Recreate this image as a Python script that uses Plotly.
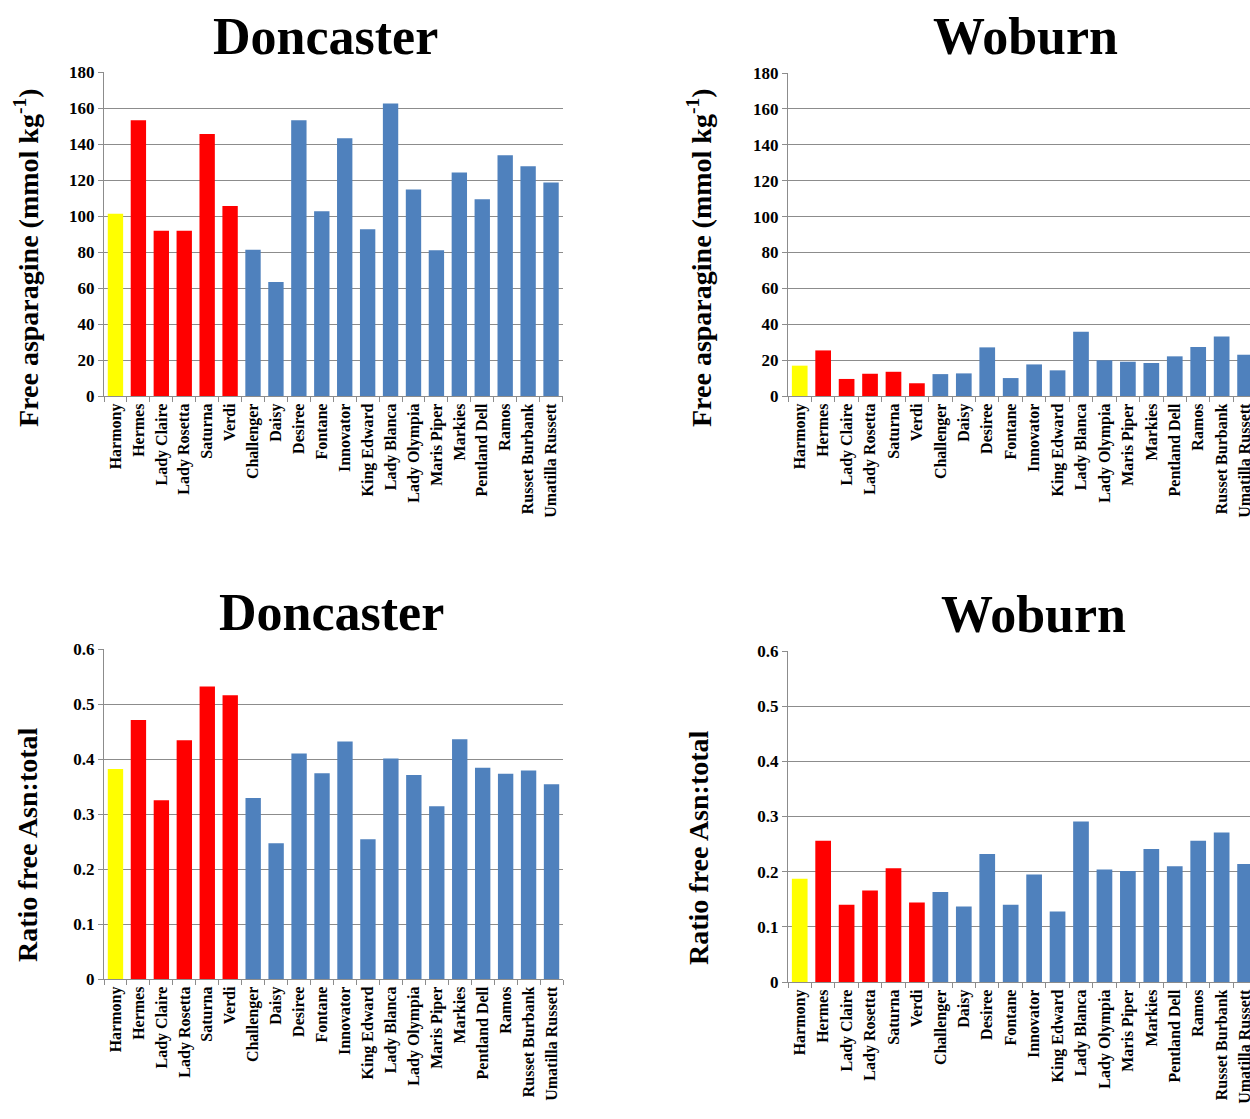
import plotly.graph_objects as go

W, H = 1250, 1119

varieties = ["Harmony", "Hermes", "Lady Claire", "Lady Rosetta", "Saturna", "Verdi",
             "Challenger", "Daisy", "Desiree", "Fontane", "Innovator", "King Edward",
             "Lady Blanca", "Lady Olympia", "Maris Piper", "Markies", "Pentland Dell",
             "Ramos", "Russet Burbank", "Umatilla Russett"]
groups = ["yellow"] + ["red"] * 5 + ["blue"] * 14

doncaster_asn = [101.3, 153.2, 91.8, 91.8, 145.6, 105.5, 81.3, 63.3, 153.2, 102.6,
                 143.2, 92.7, 162.5, 114.7, 81.0, 124.2, 109.3, 133.8, 127.7, 118.6]
woburn_asn = [16.9, 25.4, 9.5, 12.4, 13.5, 7.1, 12.2, 12.6, 27.1, 10.0,
              17.6, 14.3, 35.8, 19.9, 19.1, 18.4, 22.1, 27.3, 33.2, 23.0]
doncaster_ratio = [0.382, 0.471, 0.325, 0.434, 0.532, 0.516, 0.329, 0.247, 0.410, 0.374,
                   0.432, 0.254, 0.401, 0.371, 0.314, 0.436, 0.384, 0.373, 0.379, 0.354]
woburn_ratio = [0.187, 0.256, 0.140, 0.166, 0.206, 0.144, 0.163, 0.137, 0.232, 0.140,
                0.195, 0.128, 0.291, 0.204, 0.201, 0.241, 0.210, 0.256, 0.271, 0.214]

color_map = {"yellow": "#FFFF00", "red": "#FF0000", "blue": "#4F81BD"}
colors = [color_map[g] for g in groups]

FONT = "Liberation Serif, Times New Roman, serif"
GRID = "#8c8c8c"

def px(x):
    return x / W

def py(y):
    return 1 - y / H

panels = [
    # (values, x-domain px, y-domain px (top,bottom), x-range, y-range, dtick)
    (doncaster_asn, (104, 562.5), (72, 396), [-0.5, 19.5], [0, 180], 20),
    (woburn_asn, (788, 1250), (73, 396), [-0.5, 19.21], [0, 180], 20),
    (doncaster_ratio, (104, 563), (649, 979), [-0.5, 19.5], [0, 0.6], 0.1),
    (woburn_ratio, (788, 1250), (651, 982), [-0.5, 19.21], [0, 0.6], 0.1),
]

fig = go.Figure()
layout = dict(width=W, height=H, margin=dict(l=0, r=0, t=0, b=0, autoexpand=False),
              paper_bgcolor="white", plot_bgcolor="white", showlegend=False,
              bargap=0.33)

for i, (vals, xd, yd, xr, yr, dt) in enumerate(panels, start=1):
    xa = "x" if i == 1 else f"x{i}"
    ya = "y" if i == 1 else f"y{i}"
    fig.add_trace(go.Bar(x=varieties, y=vals, marker=dict(color=colors, line=dict(width=0)),
                         xaxis=xa, yaxis=ya))
    xkey = "xaxis" if i == 1 else f"xaxis{i}"
    ykey = "yaxis" if i == 1 else f"yaxis{i}"
    layout[xkey] = dict(domain=[px(xd[0]), px(xd[1])], anchor=ya, range=xr,
                        type="category", showline=True, linecolor=GRID, linewidth=1.3,
                        ticks="outside", tickson="boundaries", ticklen=5, tickcolor=GRID,
                        tickangle=-90, showgrid=False, automargin=False,
                        ticklabeloverflow="allow",
                        tickfont=dict(family=FONT, size=16, color="black", weight="bold"))
    layout[ykey] = dict(domain=[py(yd[1]), py(yd[0])], anchor=xa, range=yr, dtick=dt,
                        showline=True, linecolor=GRID, linewidth=1.3,
                        ticks="outside", ticklen=5, tickcolor=GRID, automargin=False,
                        showgrid=True, gridcolor=GRID, gridwidth=1.3, zeroline=False,
                        tickfont=dict(family=FONT, size=17, color="black", weight="bold"))

fig.update_layout(**layout)

annots = [
    ("Doncaster", 326, 37, 0, 52),
    ("Woburn", 1025, 37, 0, 52),
    ("Doncaster", 331, 612, 0, 52),
    ("Woburn", 1033, 614, 0, 52),
    ("Free asparagine (mmol kg<sup>-1</sup>)", 27, 258, -90, 28),
    ("Free asparagine (mmol kg<sup>-1</sup>)", 700, 258, -90, 28),
    ("Ratio free Asn:total", 27, 845, -90, 28),
    ("Ratio free Asn:total", 698, 848, -90, 28),
]
for text, x, y, ang, size in annots:
    fig.add_annotation(text=text, x=px(x), y=py(y), xref="paper", yref="paper",
                       xanchor="center", yanchor="middle", textangle=ang, showarrow=False,
                       font=dict(family=FONT, size=size, color="black", weight="bold"))

fig.write_html("out.html", config={"displayModeBar": False},
               post_script="document.body.style.margin='0';document.body.style.overflow='hidden';")
